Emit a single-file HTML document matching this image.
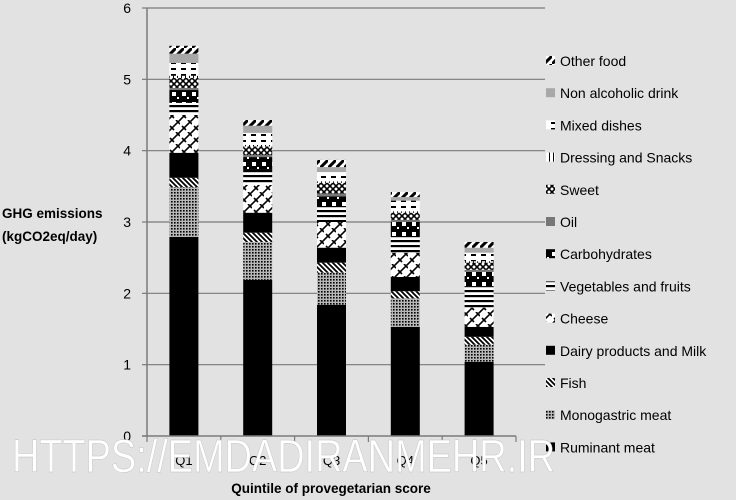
<!DOCTYPE html>
<html><head><meta charset="utf-8"><style>
html,body{margin:0;padding:0;background:#e2e2e2;}
svg{display:block;font-family:"Liberation Sans",sans-serif;}
</style></head><body>
<svg id="chart" width="736" height="500" viewBox="0 0 736 500" xmlns="http://www.w3.org/2000/svg">
<defs>
<pattern id="p-other" width="8" height="8" patternUnits="userSpaceOnUse"><rect width="8" height="8" fill="#fff"/><path d="M0 8 L8 0" stroke="#000" stroke-width="3"/></pattern>
<pattern id="p-nonalc" width="4" height="4" patternUnits="userSpaceOnUse"><rect width="4" height="4" fill="#a8a8a8"/></pattern>
<pattern id="p-mixed" width="10" height="6" patternUnits="userSpaceOnUse"><rect width="10" height="6" fill="#fff"/><rect x="1" y="2" width="5" height="2" fill="#000"/></pattern>
<pattern id="p-dress" width="4" height="4" patternUnits="userSpaceOnUse"><rect width="4" height="4" fill="#fff"/><rect x="1" width="1" height="4" fill="#000"/></pattern>
<pattern id="p-sweet" width="6" height="6" patternUnits="userSpaceOnUse"><rect width="6" height="6" fill="#fff"/><path d="M0 0 L6 6 M6 0 L0 6" stroke="#000" stroke-width="1.6"/></pattern>
<pattern id="p-oil" width="4" height="4" patternUnits="userSpaceOnUse"><rect width="4" height="4" fill="#777"/></pattern>
<pattern id="p-carb" width="10" height="10" patternUnits="userSpaceOnUse"><rect width="10" height="10" fill="#000"/><rect x="2" y="2" width="4" height="4" fill="#fff"/><rect x="7" y="7" width="2" height="2" fill="#fff"/></pattern>
<pattern id="p-veg" width="6" height="5" patternUnits="userSpaceOnUse"><rect width="6" height="5" fill="#fff"/><rect y="0" width="6" height="2.2" fill="#000"/></pattern>
<pattern id="p-cheese" width="12" height="12" patternUnits="userSpaceOnUse"><rect width="12" height="12" fill="#fff"/><path d="M0 12 L12 0 M-3 3 L3 -3 M9 15 L15 9 M2 6 L6 10 M8 0 L12 4" stroke="#000" stroke-width="1.6"/></pattern>
<pattern id="p-dairy" width="4" height="4" patternUnits="userSpaceOnUse"><rect width="4" height="4" fill="#000"/></pattern>
<pattern id="p-fish" width="5" height="5" patternUnits="userSpaceOnUse"><rect width="5" height="5" fill="#fff"/><path d="M0 0 L5 5 M-1 4 L1 6 M4 -1 L6 1" stroke="#000" stroke-width="1.8"/></pattern>
<pattern id="p-mono" width="3" height="3" patternUnits="userSpaceOnUse"><rect width="3" height="3" fill="#b8b8b8"/><rect width="1.6" height="1.6" fill="#000"/></pattern>
<pattern id="p-rum" width="4" height="4" patternUnits="userSpaceOnUse"><rect width="4" height="4" fill="#000"/></pattern>
</defs>
<g id="grid"></g>
<g id="bars"></g>
<g id="axes"></g>
<g id="legend"></g>
<text x="2" y="218" font-size="13.5" font-weight="bold" fill="#000">GHG emissions</text>
<text x="2" y="241" font-size="13.5" font-weight="bold" fill="#000">(kgCO2eq/day)</text>
<text x="331" y="493" font-size="13.5" font-weight="bold" text-anchor="middle" fill="#000">Quintile of provegetarian score</text>
<text x="12" y="472" font-size="46" textLength="543" lengthAdjust="spacingAndGlyphs" fill="#fff" stroke="#bbb" stroke-width="0.4">HTTPS://EMDADIRANMEHR.IR</text>
</svg>
<script>
const categories = ["Q1","Q2","Q3","Q4","Q5"];
const seriesNames = ["Ruminant meat","Monogastric meat","Fish","Dairy products and Milk","Cheese","Vegetables and fruits","Carbohydrates","Oil","Sweet","Dressing and Snacks","Mixed dishes","Non alcoholic drink","Other food"];
const ruminant = [2.79, 2.19, 1.84, 1.53, 1.04];
const monogastric = [0.70, 0.53, 0.45, 0.40, 0.24];
const fish = [0.13, 0.13, 0.14, 0.10, 0.11];
const dairy = [0.35, 0.28, 0.21, 0.20, 0.14];
const cheese = [0.53, 0.39, 0.36, 0.34, 0.27];
const vegfruit = [0.17, 0.21, 0.21, 0.22, 0.29];
const carbs = [0.18, 0.18, 0.15, 0.21, 0.21];
const oil = [0.03, 0.03, 0.04, 0.03, 0.03];
const sweet = [0.14, 0.12, 0.15, 0.10, 0.10];
const dressing = [0.03, 0.02, 0.02, 0.02, 0.02];
const mixed = [0.18, 0.17, 0.13, 0.15, 0.12];
const nonalc = [0.13, 0.10, 0.07, 0.05, 0.07];
const other = [0.11, 0.08, 0.10, 0.07, 0.08];
const yTicks = [0,1,2,3,4,5,6];
const series = [ruminant, monogastric, fish, dairy, cheese, vegfruit, carbs, oil, sweet, dressing, mixed, nonalc, other];
const patterns = ["p-rum","p-mono","p-fish","p-dairy","p-cheese","p-veg","p-carb","p-oil","p-sweet","p-dress","p-mixed","p-nonalc","p-other"];

const NS = "http://www.w3.org/2000/svg";
const X0 = 147, X1 = 516, Y0 = 436, Y1 = 8, YMAX = 6;
const band = (X1 - X0) / categories.length;
const barW = 29;
function y(v){ return Y0 - v / YMAX * (Y0 - Y1); }
function xc(i){ return X0 + band * (i + 0.5); }
function mk(tag, attrs, parent){ const e = document.createElementNS(NS, tag); for (const k in attrs) e.setAttribute(k, attrs[k]); parent.appendChild(e); return e; }

const grid = document.getElementById("grid");
yTicks.forEach(t => {
  if (t > 0) {
    const l = mk("line", {x1: X0, x2: 545, y1: y(t), y2: y(t), stroke: "#7a7a7a", "stroke-width": 1.2}, grid);
    
    
  }
  const tx = mk("text", {x: 131, y: y(t) + 5, "font-size": 14, "text-anchor": "end", fill: "#000"}, grid);
  
  
  tx.textContent = t;
});

const bars = document.getElementById("bars");
categories.forEach((c, i) => {
  let base = 0;
  series.forEach((s, k) => {
    const v = s[i];
    const r = mk("rect", {x: xc(i) - barW/2, y: y(base + v), width: barW, height: y(base) - y(base + v), fill: "url(#" + patterns[k] + ")"}, bars);
    
    
    base += v;
  });
});

const axes = document.getElementById("axes");
const ya = mk("line", {x1: X0, x2: X0, y1: Y1, y2: Y0, stroke: "#7a7a7a", "stroke-width": 1.5}, axes);


const xa = mk("line", {x1: X0 - 5, x2: X1, y1: Y0, y2: Y0, stroke: "#7a7a7a", "stroke-width": 1.5}, axes);


for (let i = 0; i <= categories.length; i++) {
  const tk = mk("line", {x1: X0 + band*i, x2: X0 + band*i, y1: Y0, y2: Y0 + 6, stroke: "#7a7a7a", "stroke-width": 1.2}, axes);
  
  
}
yTicks.forEach(t => {
  const tk = mk("line", {x1: X0 - 5, x2: X0, y1: y(t), y2: y(t), stroke: "#7a7a7a", "stroke-width": 1.2}, axes);
  
  
});
categories.forEach((c, i) => {
  const tx = mk("text", {x: xc(i), y: 465, "font-size": 13, "text-anchor": "middle", fill: "#000"}, axes);
  
  
  tx.textContent = c;
});

const legend = document.getElementById("legend");
for (let k = series.length - 1, j = 0; k >= 0; k--, j++) {
  const ly = 66 + j * 32.2;
  const g = mk("g", {}, legend);
  
  
  mk("rect", {x: 546, y: ly - 10, width: 9, height: 9, fill: "url(#" + patterns[k] + ")"}, g);
  const tx = mk("text", {x: 560, y: ly, "font-size": 14, fill: "#000"}, g);
  tx.textContent = seriesNames[k];
}
</script>
</body></html>
